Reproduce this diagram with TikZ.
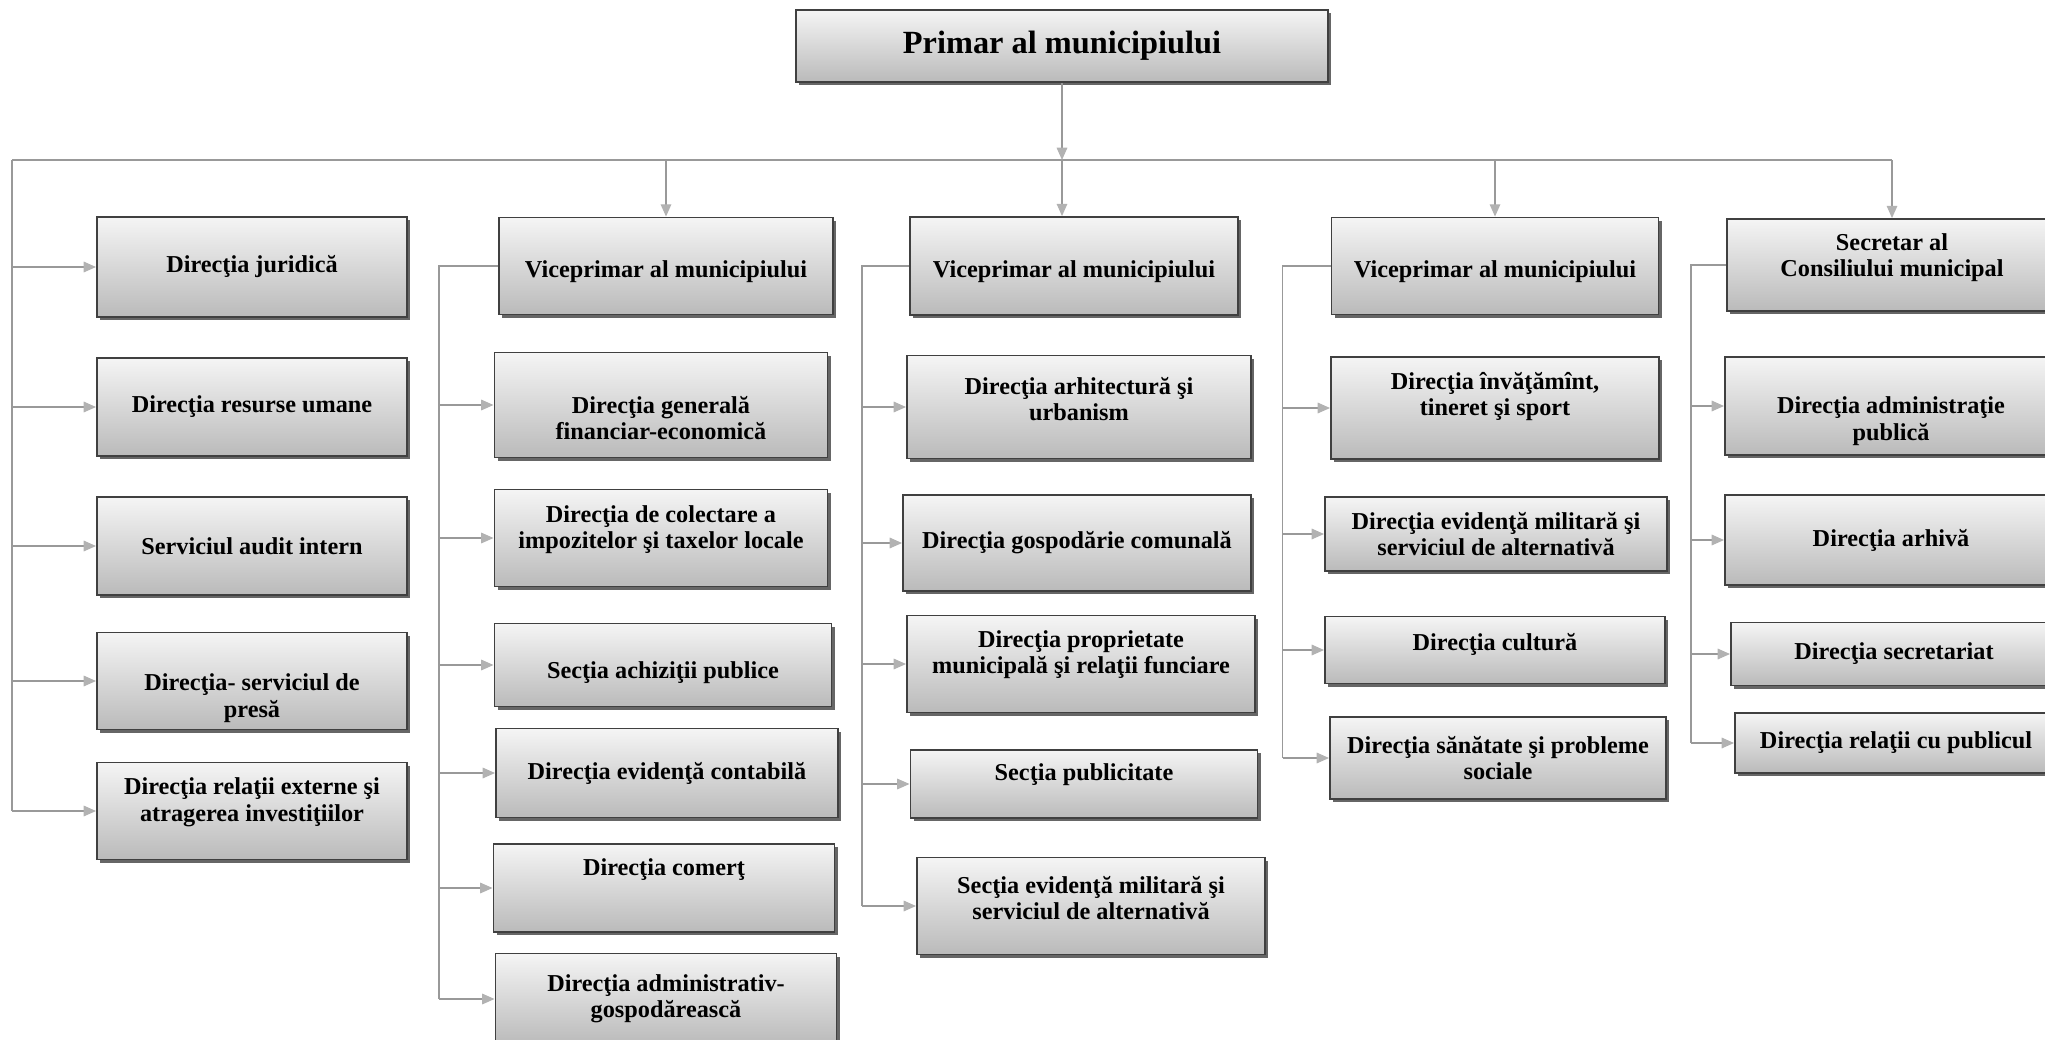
\documentclass[tikz,border=0pt]{standalone}
\usepackage{fontspec}
\setmainfont{Liberation Serif}
\usetikzlibrary{arrows.meta}
\usetikzlibrary{shadows}

\newcommand{\txtup}[1]{\rule[-#1]{0pt}{#1}}
\newcommand{\txtdown}[1]{\rule{0pt}{#1}}

\begin{document}
\begin{tikzpicture}[x=0.01cm,y=-0.01cm]
\tikzset{dept/.style={rectangle,draw=black!75,line width=0.5pt,top color=black!4,bottom color=black!27,drop shadow={opacity=1,shadow xshift=0.9pt,shadow yshift=-0.9pt,fill=black!60},align=center,inner sep=1pt,font=\fontsize{6.9}{7.5}\selectfont\bfseries},
wh/.style 2 args={minimum width=#1cm,minimum height=#2cm},
wire/.style={draw=black!40,line width=0.4pt},
feed/.style={wire,-{Triangle[length=3.5pt,width=3pt,color=black!30]}}}
\useasboundingbox (0,0) rectangle (2045,1039);

\node[dept,wh={5.32}{0.72},font=\fontsize{9.2}{11}\selectfont\bfseries] (primar) at (1062,46) {Primar al municipiului};

% directii subordonate primarului
\node[dept,wh={3.10}{1.00}] (jur) at (252,267) {Direcţia juridică};
\node[dept,wh={3.10}{0.98}] (res) at (252,407) {Direcţia resurse umane};
\node[dept,wh={3.10}{0.98}] (aud) at (252,546) {Serviciul audit intern};
\node[dept,wh={3.10}{0.97}] (pres) at (252,681) {\txtdown{0.51cm}Direcţia- serviciul de\\presă};
\node[dept,wh={3.10}{0.97}] (relx) at (252,811) {Direcţia relaţii externe şi\\atragerea investiţiilor\txtup{0.23cm}};

% primul viceprimar
\node[dept,wh={3.34}{0.97}] (vp1) at (666,266) {\txtdown{0.29cm}Viceprimar al municipiului};
\node[dept,wh={3.33}{1.05}] (fin) at (661,405) {\txtdown{0.43cm}Direcţia generală\\financiar-economică};
\node[dept,wh={3.33}{0.97}] (imp) at (661,538) {Direcţia de colectare a\\impozitelor şi taxelor locale\txtup{0.22cm}};
\node[dept,wh={3.37}{0.83}] (ach) at (663,665) {\txtdown{0.33cm}Secţia achiziţii publice};
\node[dept,wh={3.42}{0.89}] (cont) at (667,773) {Direcţia evidenţă contabilă};
\node[dept,wh={3.41}{0.88}] (com) at (664,888) {Direcţia comerţ\txtup{0.41cm}};
\node[dept,wh={3.41}{0.91}] (adm) at (666,999) {Direcţia administrativ-\\gospodărească};

% al doilea viceprimar
\node[dept,wh={3.28}{0.98}] (vp2) at (1074,266) {\txtdown{0.29cm}Viceprimar al municipiului};
\node[dept,wh={3.44}{1.03}] (arh) at (1079,407) {Direcţia arhitectură şi\\urbanism\txtup{0.16cm}};
\node[dept,wh={3.48}{0.96}] (gosp) at (1077,543) {Direcţia gospodărie comunală};
\node[dept,wh={3.48}{0.97}] (prop) at (1081,664) {Direcţia proprietate\\municipală şi relaţii funciare\txtup{0.24cm}};
\node[dept,wh={3.47}{0.68}] (pub) at (1084,784) {Secţia publicitate\txtup{0.24cm}};
\node[dept,wh={3.48}{0.97}] (smil) at (1091,906) {Secţia evidenţă militară şi\\serviciul de alternativă\txtup{0.16cm}};

% al treilea viceprimar
\node[dept,wh={3.27}{0.97}] (vp3) at (1495,266) {\txtdown{0.29cm}Viceprimar al municipiului};
\node[dept,wh={3.28}{1.02}] (inv) at (1495,408) {Direcţia învăţămînt,\\tineret şi sport\txtup{0.28cm}};
\node[dept,wh={3.42}{0.74}] (dmil) at (1496,534) {Direcţia evidenţă militară şi\\serviciul de alternativă};
\node[dept,wh={3.40}{0.67}] (cult) at (1495,650) {Direcţia cultură\txtup{0.16cm}};
\node[dept,wh={3.36}{0.82}] (san) at (1498,758) {Direcţia sănătate şi probleme\\sociale};

% secretarul consiliului
\node[dept,wh={3.30}{0.92}] (sec) at (1892,265) {Secretar al\\Consiliului municipal\txtup{0.2cm}};
\node[dept,wh={3.32}{0.98}] (adp) at (1891,406) {\txtdown{0.47cm}Direcţia administraţie\\publică};
\node[dept,wh={3.32}{0.90}] (arv) at (1891,540) {Direcţia arhivă};
\node[dept,wh={3.26}{0.63}] (secr) at (1894,654) {Direcţia secretariat};
\node[dept,wh={3.22}{0.60}] (relp) at (1896,743) {Direcţia relaţii cu publicul};

% legaturi
\coordinate (hl) at (12,160);
\draw[wire] (hl) -- (sec.north |- hl);
\draw[wire] (hl) -- (hl |- relx.west);
\draw[feed] (primar.south) -- (primar.south |- hl);
\draw[feed] (primar.south |- hl) -- (primar.south |- vp2.north);
\draw[feed] (vp1.north |- hl) -- (vp1.north);
\draw[feed] (vp3.north |- hl) -- (vp3.north);
\draw[feed] (sec.north |- hl) -- (sec.north);
\foreach \n in {jur,res,aud,pres,relx}
  \draw[feed] (hl |- \n.west) -- (\n.west);
\draw[wire] (vp1.west) -- ++(-59,0) coordinate (b1) -- (b1 |- adm.west);
\foreach \n in {fin,imp,ach,cont,com,adm}
  \draw[feed] (b1 |- \n.west) -- (\n.west);
\draw[wire] (vp2.west) -- ++(-47,0) coordinate (b2) -- (b2 |- smil.west);
\foreach \n in {arh,gosp,prop,pub,smil}
  \draw[feed] (b2 |- \n.west) -- (\n.west);
\draw[wire] (vp3.west) -- ++(-48,0) coordinate (b3) -- (b3 |- san.west);
\foreach \n in {inv,dmil,cult,san}
  \draw[feed] (b3 |- \n.west) -- (\n.west);
\draw[wire] (sec.west) -- ++(-35,0) coordinate (b4) -- (b4 |- relp.west);
\foreach \n in {adp,arv,secr,relp}
  \draw[feed] (b4 |- \n.west) -- (\n.west);
\end{tikzpicture}
\end{document}
